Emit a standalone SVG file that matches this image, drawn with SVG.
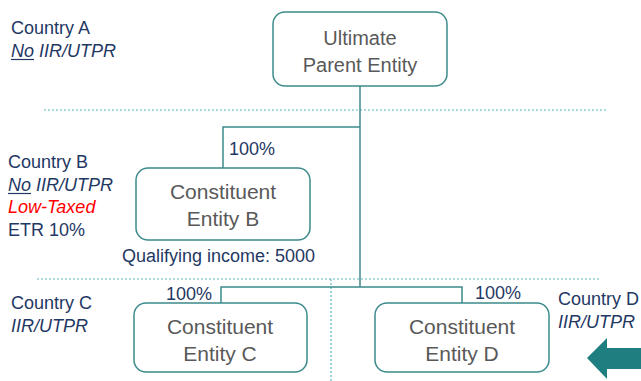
<svg xmlns="http://www.w3.org/2000/svg" width="641" height="381" viewBox="0 0 641 381">
<style>
.box{fill:#fff;stroke:#3d8a8c;stroke-width:1.5}
.bt{font-family:"Liberation Sans",Arial,sans-serif;font-size:21px;fill:#595959;text-anchor:middle}
.lbl{font-family:"Liberation Sans",Arial,sans-serif;font-size:18px;fill:#1f3864}
.it{font-style:italic}
.red{fill:#ff0000;font-style:italic}
.conn{stroke:#3d8a8c;stroke-width:1.5;fill:none}
.dash{stroke:#5bb8bb;stroke-width:1.2;stroke-dasharray:2,2;fill:none}
.ul{stroke:#1f3864;stroke-width:1.2}
</style>
<rect width="641" height="381" fill="#fff"/>
<g id="separators">
<line class="dash" x1="44" y1="110" x2="607" y2="110"/>
<line class="dash" x1="37" y1="279" x2="600" y2="279"/>
<line class="dash" x1="331" y1="279" x2="331" y2="381"/>
</g>
<g id="connectors">
<line class="conn" x1="360" y1="86" x2="360" y2="287"/>
<polyline class="conn" points="360,127 223,127 223,168"/>
<polyline class="conn" points="221,303 221,287 462,287 462,303"/>
</g>
<g id="upe">
<rect class="box" x="273" y="12" width="174" height="74" rx="12"/>
<text class="bt" x="360" y="45" style="font-size:20px">Ultimate</text>
<text class="bt" x="360" y="72" style="font-size:20px">Parent Entity</text>
</g>
<g id="ceB">
<rect class="box" x="136" y="168" width="174" height="72" rx="12"/>
<text class="bt" x="223" y="199">Constituent</text>
<text class="bt" x="223" y="226">Entity B</text>
</g>
<g id="ceC">
<rect class="box" x="134" y="303" width="173" height="69" rx="12"/>
<text class="bt" x="220" y="334">Constituent</text>
<text class="bt" x="220" y="361">Entity C</text>
</g>
<g id="ceD">
<rect class="box" x="375" y="303" width="174" height="69" rx="12"/>
<text class="bt" x="462" y="334">Constituent</text>
<text class="bt" x="462" y="361">Entity D</text>
</g>
<g id="labels">
<text class="lbl" x="229" y="155">100%</text>
<text class="lbl" x="166" y="300">100%</text>
<text class="lbl" x="475" y="299">100%</text>
<text class="lbl" x="122" y="262">Qualifying income: 5000</text>
</g>
<g id="countryA">
<text class="lbl" x="11" y="34">Country A</text>
<text class="lbl it" x="11" y="57">No IIR/UTPR</text>
<line class="ul" x1="11" y1="59.5" x2="34" y2="59.5"/>
</g>
<g id="countryB">
<text class="lbl" x="8" y="168">Country B</text>
<text class="lbl it" x="8" y="191">No IIR/UTPR</text>
<line class="ul" x1="8" y1="193.5" x2="31" y2="193.5"/>
<text class="lbl red" x="8" y="213">Low-Taxed</text>
<text class="lbl" x="8" y="236">ETR 10%</text>
</g>
<g id="countryC">
<text class="lbl" x="11" y="309">Country C</text>
<text class="lbl it" x="11" y="332">IIR/UTPR</text>
</g>
<g id="countryD">
<text class="lbl" x="558" y="305">Country D</text>
<text class="lbl it" x="558" y="328">IIR/UTPR</text>
<polygon points="587,358 607,338 607,348 641,348 641,369 607,369 607,379" fill="#1f7f80"/>
</g>
</svg>
